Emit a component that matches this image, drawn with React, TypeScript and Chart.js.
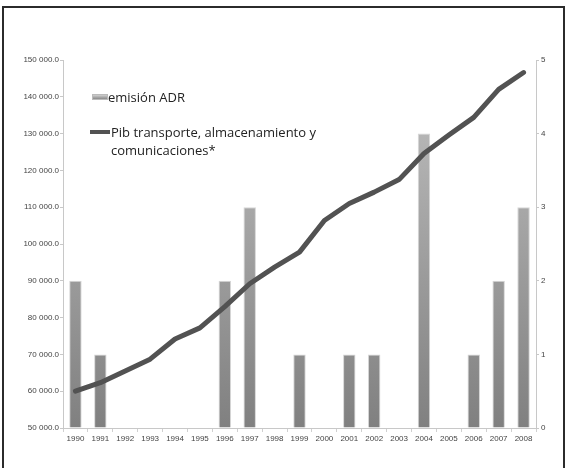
import React, { useEffect, useRef } from "react";
import { Chart, registerables } from "chart.js";
Chart.register(...registerables);

const years = ["1990","1991","1992","1993","1994","1995","1996","1997","1998","1999","2000","2001","2002","2003","2004","2005","2006","2007","2008"];
const emisionADR = [2, 1, null, null, null, null, 2, 3, null, 1, null, 1, 1, null, 4, null, 1, 2, 3];
const pibTransporte = [60000, 62300, 65500, 68700, 74200, 77200, 83000, 89200, 93700, 97800, 106400, 111000, 114100, 117500, 124600, 129600, 134400, 142000, 146600];
const leftTicks = { min: 50000, max: 150000, step: 10000 };
const rightTicks = { min: 0, max: 5, step: 1 };
const barLabel = "emisión ADR";
const lineLabelA = "Pib transporte, almacenamiento y";
const lineLabelB = "comunicaciones*";

function fmt(v: number) {
  const s = Math.round(v).toString().replace(/\B(?=(\d{3})+(?!\d))/g, " ");
  return s + ".0";
}

export default function App() {
  const ref = useRef<HTMLCanvasElement | null>(null);
  useEffect(() => {
    if (!ref.current) return;
    const tickFont = { family: "'Liberation Sans', Arial, sans-serif", size: 8 };
    const chart = new Chart(ref.current, {
      type: "bar",
      data: {
        labels: years,
        datasets: [
          {
            type: "line",
            label: lineLabelA + " " + lineLabelB,
            data: pibTransporte,
            yAxisID: "y",
            borderColor: "#525252",
            borderWidth: 5,
            pointRadius: 0,
            tension: 0,
            borderCapStyle: "round",
            borderJoinStyle: "round",
            order: 0,
          } as any,
          {
            type: "bar",
            label: barLabel,
            data: emisionADR,
            yAxisID: "y1",
            backgroundColor: (ctx: any) => {
              const area = ctx.chart.chartArea;
              if (!area) return "#999";
              const g = ctx.chart.ctx.createLinearGradient(0, area.top, 0, area.bottom);
              g.addColorStop(0, "#c2c2c2");
              g.addColorStop(1, "#808080");
              return g;
            },
            borderColor: "#d6d6d6",
            borderWidth: 1,
            barPercentage: 0.5,
            categoryPercentage: 1,
            order: 1,
          } as any,
        ],
      },
      options: {
        responsive: false,
        animation: false,
        devicePixelRatio: 1,
        layout: { padding: { left: 0, right: 0, top: 60, bottom: 0 } },
        plugins: { legend: { display: false }, tooltip: { enabled: false } },
        scales: {
          x: {
            grid: { display: true, drawOnChartArea: false, drawTicks: true, tickLength: 4, color: "#d0d0d0", offset: true },
            border: { display: true, color: "#c8c8c8", width: 1 },
            ticks: { font: tickFont, color: "#444", padding: 2, maxRotation: 0, autoSkip: false },
            afterFit: (s: any) => { s.height = 40; },
          },
          y: {
            position: "left",
            min: leftTicks.min,
            max: leftTicks.max,
            grid: { display: true, drawOnChartArea: false, drawTicks: true, tickLength: 3, color: "#c8c8c8" },
            border: { display: true, color: "#c8c8c8", width: 1 },
            ticks: { stepSize: leftTicks.step, font: tickFont, color: "#444", padding: 1, callback: (v: any) => fmt(Number(v)) },
            afterFit: (s: any) => { s.width = 63; },
          },
          y1: {
            position: "right",
            min: rightTicks.min,
            max: rightTicks.max,
            grid: { display: true, drawOnChartArea: false, drawTicks: true, tickLength: 3, color: "#c8c8c8" },
            border: { display: true, color: "#c8c8c8", width: 1 },
            ticks: { stepSize: rightTicks.step, font: tickFont, color: "#444", padding: 2 },
            afterFit: (s: any) => { s.width = 30; },
          },
        },
      },
    });
    return () => chart.destroy();
  }, []);

  const legendFont: React.CSSProperties = {
    position: "absolute",
    fontFamily: "'Open Sans', sans-serif",
    fontSize: 13,
    color: "#222",
    whiteSpace: "nowrap",
    lineHeight: "18px",
  };

  return (
    <div style={{ position: "absolute", left: 0, top: 0, width: 566, height: 468, overflow: "hidden", background: "#fff" }}>
      <canvas ref={ref} width={566} height={468} style={{ position: "absolute", left: 0, top: 0, width: 566, height: 468 }} />
      <div style={{ position: "absolute", left: 92, top: 94, width: 16, height: 6, background: "linear-gradient(#d0d0d0, #8a8a8a)", border: "1px solid #bbb", boxSizing: "border-box" }} />
      <div style={{ ...legendFont, left: 108, top: 88 }}>{barLabel}</div>
      <div style={{ position: "absolute", left: 90, top: 130, width: 20, height: 3.5, background: "#525252" }} />
      <div style={{ ...legendFont, left: 111, top: 123 }}>{lineLabelA}</div>
      <div style={{ ...legendFont, left: 111, top: 141 }}>{lineLabelB}</div>
      <div style={{ position: "absolute", left: 2, top: 6, width: 559, height: 470, border: "2px solid #2b2b2b", pointerEvents: "none" }} />
    </div>
  );
}
